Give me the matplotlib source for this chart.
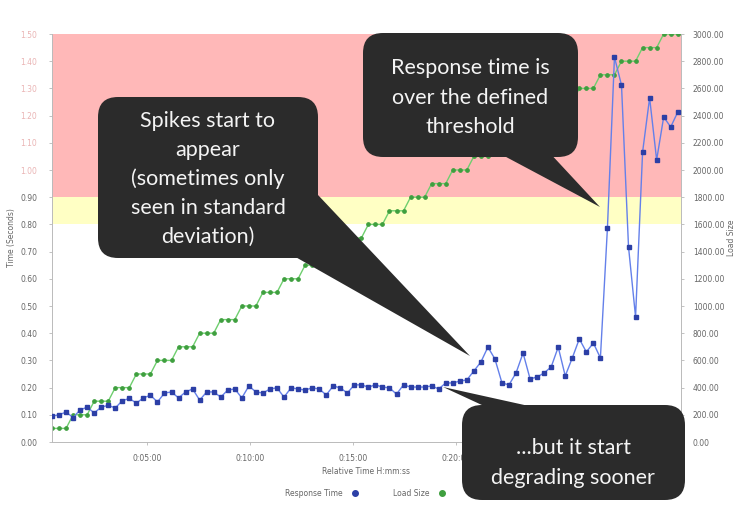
import numpy as np
import matplotlib
matplotlib.use("Agg")
import matplotlib.pyplot as plt
from matplotlib.patches import FancyBboxPatch, Polygon
from matplotlib.lines import Line2D
import matplotlib.transforms as mtransforms

W, H = 740, 509

# sampling: one reading every ~20.5 s
n_points = 90
t_start, t_step = 23, 20.5
times = t_start + t_step * np.arange(n_points)

# response time (seconds)
response_time = [
    0.095, 0.100, 0.110, 0.090, 0.118, 0.128, 0.107, 0.128, 0.135, 0.125,
    0.152, 0.160, 0.143, 0.162, 0.172, 0.147, 0.180, 0.184, 0.162, 0.184,
    0.195, 0.154, 0.184, 0.184, 0.165, 0.191, 0.195, 0.162, 0.206, 0.184,
    0.180, 0.195, 0.199, 0.165, 0.199, 0.195, 0.191, 0.199, 0.195, 0.173,
    0.206, 0.199, 0.180, 0.210, 0.210, 0.202, 0.210, 0.202, 0.199, 0.176,
    0.210, 0.202, 0.202, 0.202, 0.206, 0.195, 0.217, 0.217, 0.224, 0.228,
    0.261, 0.294, 0.349, 0.305, 0.217, 0.210, 0.254, 0.327, 0.232, 0.239,
    0.254, 0.276, 0.349, 0.243, 0.309, 0.379, 0.331, 0.364, 0.309, 0.787,
    1.415, 1.312, 0.717, 0.460, 1.066, 1.265, 1.037, 1.195, 1.158, 1.213,
]

# load size: 30 steps of 100 users, 3 readings per step
load_levels = [100, 200, 300, 400, 500, 600, 700, 800, 900, 1000,
               1100, 1200, 1300, 1400, 1500, 1600, 1700, 1800, 1900, 2000,
               2100, 2200, 2300, 2400, 2500, 2600, 2700, 2800, 2900, 3000]
load_size = np.repeat(load_levels, 3)

# thresholds in seconds (warning / critical)
warn_from, crit_from, top_time = 0.8, 0.9, 1.5
top_load = 3000

# later tick labels sit behind the callout box in the original
x_ticks = [300, 600, 900, 1200]
x_tick_labels = ["0:05:00", "0:10:00", "0:15:00", "0:20:00"]
left_ticks = [i / 10 for i in range(16)]
right_ticks = list(range(0, 3001, 200))

grey = "#666666"

fig = plt.figure(figsize=(W / 100, H / 100), dpi=100)
ax = fig.add_axes([52 / W, 1 - 442 / H, (681 - 52) / W, (442 - 34) / H])
ax2 = ax.twinx()

# threshold bands go on the lower (load) axes so both lines sit above them
scale = top_load / top_time
ax2.axhspan(crit_from * scale, top_load, color="#ffb8b8", lw=0, zorder=0)
ax2.axhspan(warn_from * scale, crit_from * scale, color="#ffffc4", lw=0, zorder=0)

ax2.plot(times, load_size, "-o", color="#6fcf6f", lw=1.0, ms=2.4,
         mfc="#3f9f3f", mec="#3f9f3f", zorder=2)
ax.plot(times, response_time, "-s", color="#6480ea", lw=1.0, ms=2.5,
        mfc="#2c3fa6", mec="#2c3fa6", zorder=3)
ax.set_zorder(ax2.get_zorder() + 1)
ax.patch.set_visible(False)

ax.set_xlim(23, 1857)
ax.set_ylim(0, top_time)
ax2.set_ylim(0, top_load)

ax.set_xticks(x_ticks)
ax.set_xticklabels(x_tick_labels)
ax.set_yticks(left_ticks)
ax.set_yticklabels(["%.2f" % v for v in left_ticks])
for lab, v in zip(ax.get_yticklabels(), left_ticks):
    lab.set_color("#eab4b4" if v >= 1.0 else grey)
ax2.set_yticks(right_ticks)
ax2.set_yticklabels(["%.2f" % v for v in right_ticks])

for a in (ax, ax2):
    a.tick_params(labelsize=5.5, length=2.5, width=0.5, color="#aaaaaa", pad=8)
    for s in a.spines.values():
        s.set_color("#bbbbbb")
        s.set_linewidth(0.6)
    a.spines["top"].set_visible(False)
ax.tick_params(axis="x", labelcolor=grey, pad=6)
ax2.tick_params(labelcolor=grey, pad=6)

ax.set_ylabel("Time (Seconds)", fontsize=5.5, color=grey, labelpad=3)
ax2.set_ylabel("Load Size", fontsize=5.5, color=grey, labelpad=2)
ax.set_xlabel("Relative Time H:mm:ss", fontsize=5.5, color=grey, labelpad=3)

handles = [
    Line2D([], [], ls="none", marker="o", ms=4, color="#2c3fa6"),
    Line2D([], [], ls="none", marker="o", ms=4, color="#3f9f3f"),
]
fig.legend(handles, ["Response Time", "Load Size"], loc="center",
           bbox_to_anchor=(367 / W, 1 - 493 / H), ncol=2, frameon=False,
           markerfirst=False, fontsize=5.5, labelcolor=grey,
           columnspacing=4, handletextpad=0.6)

# callouts drawn in image pixel coordinates (origin bottom-left)
px = mtransforms.Affine2D().scale(1 / 100) + fig.dpi_scale_trans
box_col = "#2b2b2b"
text_col = "#f4f4f4"


def callout(x0, y0, x1, y1, wedge, lines, line_y, cx):
    # y values are given from the top of the image
    pts = [(x, H - y) for x, y in wedge]
    fig.patches.append(Polygon(pts, closed=True, transform=px,
                               fc=box_col, ec="none", zorder=5))
    fig.patches.append(FancyBboxPatch((x0, H - y1), x1 - x0, y1 - y0,
                                      boxstyle="round,pad=0,rounding_size=20",
                                      transform=px, fc=box_col, ec="none", zorder=5))
    for txt, ly in zip(lines, line_y):
        fig.text(cx / W, 1 - ly / H, txt, ha="center", va="center",
                 color=text_col, fontsize=15.5, family="Lato", zorder=6)


callout(98, 97, 318, 258,
        [(318, 195), (292, 255), (470, 356)],
        ["Spikes start to", "appear", "(sometimes only", "seen in standard", "deviation)"],
        [121, 150, 179, 208, 237], 208)

callout(363, 33, 578, 157,
        [(493, 150), (547, 150), (600, 207)],
        ["Response time is", "over the defined", "threshold"],
        [68, 98, 127], 470)

callout(462, 405, 685, 500,
        [(497, 412), (556, 412), (443, 387)],
        ["...but it start", "degrading sooner"],
        [448, 478], 573)

fig.savefig("out.png", dpi=100)
